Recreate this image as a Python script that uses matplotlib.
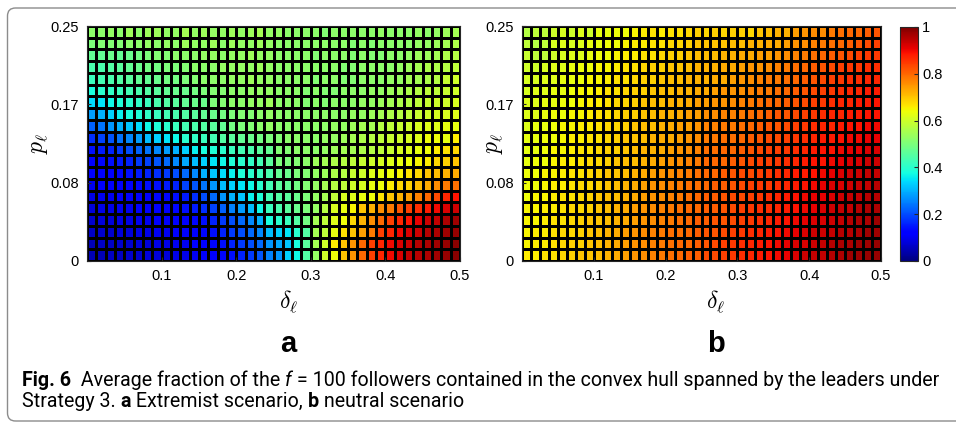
import numpy as np
import matplotlib
matplotlib.use("Agg")
import matplotlib.pyplot as plt
from matplotlib import font_manager
from matplotlib.patches import FancyBboxPatch

# grid of leader parameters: 40 delta cells x 20 p cells
delta_max = 0.5
p_max = 0.25
x_ticks = [0.1, 0.2, 0.3, 0.4, 0.5]
x_ticklabels = ["0.1", "0.2", "0.3", "0.4", "0.5"]
y_ticks = [0, 1 / 12, 1 / 6, 0.25]
y_ticklabels = ["0", "0.08", "0.17", "0.25"]
cbar_ticks = [0, 0.2, 0.4, 0.6, 0.8, 1]
cbar_ticklabels = ["0", "0.2", "0.4", "0.6", "0.8", "1"]

# (a) extremist scenario, fraction in percent, rows listed top (p=0.25) to bottom (p=0)
frac_a = [
    [52, 52, 53, 52, 54, 52, 54, 54, 53, 53, 55, 53, 54, 53, 53, 54, 53, 54, 55, 53, 53, 52, 52, 52, 52, 51, 52, 52, 52, 52, 52, 53, 52, 52, 52, 53, 52, 53, 54, 55],
    [50, 51, 51, 51, 52, 52, 53, 52, 53, 52, 54, 53, 53, 54, 52, 54, 53, 53, 54, 53, 52, 52, 52, 52, 52, 52, 52, 52, 51, 52, 51, 52, 52, 52, 52, 53, 53, 54, 55, 56],
    [47, 47, 48, 47, 48, 49, 50, 51, 51, 52, 52, 52, 53, 53, 52, 53, 53, 54, 53, 53, 52, 52, 52, 52, 51, 52, 52, 52, 51, 52, 51, 51, 52, 52, 53, 54, 54, 55, 56, 57],
    [44, 44, 45, 46, 47, 48, 49, 49, 50, 50, 51, 52, 52, 52, 53, 53, 53, 53, 54, 53, 52, 52, 52, 52, 52, 52, 52, 51, 51, 52, 52, 52, 52, 53, 54, 55, 56, 56, 57, 58],
    [42, 43, 44, 45, 46, 47, 47, 48, 49, 49, 50, 51, 52, 52, 52, 53, 53, 54, 53, 53, 52, 52, 52, 52, 51, 52, 52, 51, 51, 52, 52, 52, 53, 53, 55, 55, 56, 57, 59, 60],
    [38, 40, 41, 42, 43, 44, 45, 46, 47, 48, 48, 49, 50, 51, 51, 52, 52, 53, 53, 53, 52, 52, 52, 51, 52, 51, 51, 52, 52, 52, 53, 53, 54, 55, 56, 57, 58, 58, 59, 60],
    [34, 35, 37, 39, 40, 41, 42, 44, 45, 46, 47, 48, 48, 50, 51, 52, 52, 53, 53, 54, 52, 52, 52, 51, 52, 51, 52, 52, 52, 53, 53, 54, 55, 56, 57, 58, 59, 60, 60, 61],
    [28, 30, 33, 36, 38, 39, 41, 42, 43, 44, 45, 46, 47, 48, 49, 50, 51, 51, 52, 53, 52, 52, 52, 52, 52, 52, 52, 52, 53, 53, 54, 55, 56, 57, 58, 59, 60, 61, 61, 62],
    [22, 24, 27, 30, 32, 34, 37, 39, 40, 42, 43, 44, 45, 46, 47, 49, 50, 51, 52, 53, 52, 52, 52, 52, 52, 52, 53, 53, 54, 55, 55, 57, 58, 59, 60, 61, 62, 62, 63, 63],
    [17, 19, 21, 24, 26, 28, 31, 33, 35, 37, 40, 41, 42, 43, 45, 46, 47, 48, 49, 50, 51, 52, 52, 52, 52, 53, 53, 54, 55, 56, 57, 58, 59, 60, 61, 62, 64, 64, 63, 66],
    [14, 15, 16, 18, 20, 22, 24, 26, 28, 30, 33, 36, 38, 39, 40, 42, 43, 44, 46, 47, 51, 51, 52, 52, 52, 53, 54, 55, 55, 56, 57, 58, 59, 61, 62, 63, 64, 66, 67, 68],
    [12, 13, 14, 15, 16, 18, 19, 21, 23, 26, 29, 31, 33, 35, 37, 39, 40, 41, 43, 46, 50, 50, 51, 52, 54, 55, 56, 57, 58, 59, 60, 61, 62, 63, 64, 65, 66, 68, 69, 70],
    [11, 12, 12, 13, 14, 15, 16, 17, 18, 20, 23, 26, 30, 32, 34, 36, 39, 40, 42, 44, 47, 48, 50, 51, 53, 54, 56, 57, 59, 60, 62, 63, 64, 65, 67, 68, 70, 71, 72, 73],
    [10, 11, 11, 12, 12, 13, 14, 14, 15, 16, 19, 21, 24, 27, 31, 33, 35, 37, 40, 43, 46, 47, 49, 51, 53, 55, 57, 58, 60, 61, 63, 64, 66, 68, 69, 71, 73, 76, 78, 79],
    [9, 10, 10, 11, 11, 12, 12, 13, 13, 14, 15, 17, 20, 23, 27, 30, 32, 36, 39, 43, 45, 46, 48, 50, 53, 55, 58, 61, 62, 63, 64, 67, 70, 72, 74, 77, 80, 83, 87, 89],
    [8, 9, 9, 10, 10, 11, 11, 12, 12, 13, 14, 15, 17, 19, 22, 25, 28, 31, 37, 42, 44, 46, 48, 50, 53, 57, 61, 63, 65, 70, 72, 76, 78, 82, 84, 86, 88, 90, 92, 93],
    [7, 8, 8, 9, 9, 10, 10, 11, 11, 12, 12, 13, 14, 16, 18, 20, 23, 26, 30, 38, 40, 42, 45, 49, 55, 58, 62, 64, 68, 72, 76, 80, 84, 87, 89, 91, 93, 94, 96, 97],
    [6, 7, 7, 8, 8, 9, 9, 10, 10, 11, 11, 12, 13, 14, 16, 18, 20, 23, 26, 31, 33, 35, 40, 45, 55, 58, 63, 67, 70, 74, 78, 84, 87, 90, 92, 93, 95, 96, 97, 98],
    [5, 6, 6, 7, 7, 8, 8, 9, 9, 10, 10, 11, 12, 13, 14, 16, 18, 20, 23, 27, 29, 32, 38, 46, 55, 60, 66, 70, 75, 80, 84, 87, 90, 92, 93, 95, 96, 97, 98, 99],
    [5, 5, 6, 6, 7, 7, 8, 8, 8, 9, 9, 10, 11, 12, 13, 14, 16, 18, 21, 25, 27, 33, 37, 45, 53, 60, 64, 70, 75, 80, 84, 87, 90, 92, 94, 95, 96, 97, 98, 99],
]

# (b) neutral scenario
frac_b = [
    [57, 58, 58, 60, 61, 60, 62, 60, 63, 63, 64, 64, 65, 66, 67, 66, 67, 67, 68, 69, 68, 69, 68, 69, 69, 68, 70, 71, 72, 72, 74, 75, 76, 76, 78, 79, 80, 80, 81, 82],
    [58, 57, 58, 61, 62, 61, 62, 63, 63, 64, 64, 65, 66, 66, 67, 67, 68, 68, 69, 70, 70, 70, 70, 71, 71, 72, 72, 73, 73, 74, 75, 76, 77, 78, 79, 80, 81, 82, 83, 84],
    [59, 58, 58, 60, 61, 62, 62, 63, 64, 64, 65, 66, 66, 67, 67, 68, 69, 69, 70, 71, 71, 71, 72, 72, 73, 73, 74, 74, 75, 76, 77, 78, 79, 80, 81, 82, 83, 84, 85, 85],
    [60, 60, 61, 62, 62, 63, 64, 64, 65, 65, 66, 67, 67, 68, 69, 69, 70, 70, 71, 72, 72, 72, 73, 73, 74, 75, 75, 76, 77, 78, 79, 80, 81, 82, 83, 84, 85, 85, 86, 86],
    [61, 61, 62, 62, 63, 63, 64, 65, 65, 66, 67, 67, 68, 69, 69, 70, 71, 71, 72, 72, 72, 73, 73, 74, 75, 76, 77, 78, 78, 79, 80, 81, 82, 83, 84, 85, 86, 86, 87, 87],
    [61, 62, 62, 63, 63, 64, 65, 65, 66, 67, 67, 68, 69, 69, 70, 71, 71, 72, 72, 73, 73, 74, 75, 75, 76, 77, 78, 78, 79, 80, 81, 82, 83, 84, 85, 86, 87, 87, 88, 88],
    [62, 62, 63, 63, 64, 64, 65, 66, 66, 67, 68, 68, 69, 70, 71, 71, 72, 72, 73, 74, 74, 75, 75, 76, 77, 78, 79, 80, 80, 81, 82, 83, 84, 85, 86, 87, 87, 88, 88, 89],
    [62, 62, 63, 64, 64, 65, 65, 66, 67, 67, 68, 69, 69, 70, 71, 72, 72, 73, 74, 74, 76, 76, 77, 77, 78, 79, 80, 81, 82, 82, 83, 84, 85, 86, 87, 87, 88, 88, 89, 89],
    [62, 63, 63, 64, 65, 65, 66, 66, 67, 68, 68, 69, 70, 71, 71, 72, 73, 74, 74, 75, 77, 77, 78, 78, 79, 80, 81, 82, 82, 83, 84, 85, 86, 87, 87, 88, 89, 89, 90, 90],
    [63, 63, 64, 64, 65, 66, 66, 67, 67, 68, 69, 70, 70, 71, 72, 73, 73, 74, 75, 76, 78, 78, 79, 79, 80, 81, 82, 83, 83, 84, 85, 86, 87, 88, 88, 89, 90, 90, 91, 91],
    [63, 63, 64, 65, 65, 66, 67, 67, 68, 69, 69, 70, 71, 72, 72, 73, 74, 75, 76, 77, 79, 79, 80, 80, 81, 82, 83, 84, 84, 85, 86, 87, 88, 89, 89, 90, 91, 91, 92, 92],
    [63, 64, 64, 65, 66, 66, 67, 68, 68, 69, 70, 71, 71, 72, 73, 74, 75, 76, 77, 78, 80, 80, 80, 81, 82, 83, 84, 84, 85, 86, 87, 88, 89, 89, 90, 91, 92, 92, 93, 93],
    [64, 64, 65, 65, 66, 67, 67, 68, 69, 70, 70, 71, 72, 73, 74, 75, 76, 77, 78, 79, 80, 80, 81, 82, 83, 83, 84, 85, 86, 87, 88, 88, 89, 90, 91, 92, 93, 93, 94, 94],
    [64, 64, 65, 66, 66, 67, 68, 68, 69, 70, 71, 72, 73, 74, 75, 76, 77, 78, 79, 79, 80, 81, 81, 82, 83, 84, 85, 85, 86, 87, 88, 89, 90, 91, 92, 92, 93, 94, 94, 95],
    [64, 65, 65, 66, 67, 67, 68, 69, 70, 71, 71, 72, 73, 74, 75, 76, 77, 78, 79, 80, 81, 81, 82, 83, 83, 84, 85, 86, 87, 88, 89, 90, 91, 91, 92, 93, 94, 94, 95, 95],
    [65, 65, 66, 66, 67, 68, 68, 69, 70, 71, 72, 73, 74, 75, 76, 77, 78, 79, 80, 80, 81, 81, 82, 83, 84, 85, 86, 86, 87, 88, 89, 90, 91, 92, 93, 94, 94, 95, 96, 96],
    [65, 65, 66, 67, 67, 68, 69, 70, 70, 71, 72, 73, 74, 75, 76, 77, 78, 79, 80, 81, 81, 82, 82, 83, 84, 85, 86, 87, 88, 89, 90, 91, 92, 92, 93, 94, 95, 96, 96, 97],
    [65, 66, 66, 67, 68, 68, 69, 70, 71, 72, 73, 74, 75, 76, 77, 78, 79, 79, 80, 81, 82, 82, 83, 84, 85, 86, 87, 88, 89, 90, 91, 92, 93, 93, 94, 95, 95, 96, 97, 97],
    [65, 66, 66, 67, 68, 69, 69, 70, 71, 72, 73, 74, 75, 76, 77, 78, 79, 80, 80, 81, 82, 83, 84, 85, 86, 87, 88, 89, 90, 91, 92, 92, 93, 94, 95, 96, 96, 97, 97, 98],
    [66, 66, 67, 67, 68, 69, 70, 70, 71, 72, 73, 74, 75, 76, 77, 78, 79, 80, 81, 81, 83, 83, 84, 85, 86, 87, 88, 89, 90, 91, 92, 93, 94, 94, 95, 96, 97, 97, 98, 98],
]

panel_letters = ["a", "b"]
caption_line1 = [("Fig. 6", "bold", "normal"), ("  Average fraction of the ", "normal", "normal"),
                 ("f", "normal", "italic"),
                 (" = 100 followers contained in the convex hull spanned by the leaders under", "normal", "normal")]
caption_line2 = [("Strategy 3. ", "normal", "normal"), ("a", "bold", "normal"),
                 (" Extremist scenario, ", "normal", "normal"), ("b", "bold", "normal"),
                 (" neutral scenario", "normal", "normal")]


def pick_font(names):
    have = {f.name for f in font_manager.fontManager.ttflist}
    for n in names:
        if n in have:
            return n
    return "DejaVu Sans"


sans = pick_font(["Liberation Sans", "Arial", "DejaVu Sans"])
cap_font = pick_font(["Roboto", "Lato", "DejaVu Sans"])
plt.rcParams["font.family"] = sans

W, H = 956, 423
fig = plt.figure(figsize=(W / 100, H / 100), dpi=100)


def px_axes(x0, y0, x1, y1):
    # pixel box (top-left origin) -> figure fraction
    return fig.add_axes([x0 / W, 1 - y1 / H, (x1 - x0) / W, (y1 - y0) / H])


x_edges = np.linspace(0, delta_max, len(frac_a[0]) + 1)
y_edges = np.linspace(0, p_max, len(frac_a) + 1)

axes = [px_axes(87, 26, 460, 261), px_axes(522, 26, 881, 261)]
ylabel_x = [-0.099, -0.047]
for ax, data, letter, lx in zip(axes, [frac_a, frac_b], panel_letters, ylabel_x):
    vals = np.array(data[::-1]) / 100.0
    mesh = ax.pcolormesh(x_edges, y_edges, vals, cmap="jet", vmin=0, vmax=1,
                         edgecolors="k", linewidth=0.8)
    ax.set_xlim(0, delta_max)
    ax.set_ylim(0, p_max)
    ax.set_xticks(x_ticks)
    ax.set_xticklabels(x_ticklabels)
    ax.set_yticks(y_ticks)
    ax.set_yticklabels(y_ticklabels)
    ax.tick_params(direction="in", length=3, labelsize=10.5, pad=6, color="#262626")
    for s in ax.spines.values():
        s.set_color("#262626")
        s.set_linewidth(0.8)
    ax.set_xlabel(r"$\delta_\ell$", fontsize=17, labelpad=4, math_fontfamily="cm")
    ax.xaxis.set_label_coords(0.54, -0.115)
    ax.set_ylabel(r"$p_\ell$", fontsize=17, math_fontfamily="cm")
    ax.yaxis.set_label_coords(lx, 0.5)
    ax.text(0.54, -0.387, letter, transform=ax.transAxes, ha="center", va="baseline",
            fontsize=21, fontweight="bold")

cax = px_axes(900, 27, 918, 261)
cb = fig.colorbar(mesh, cax=cax, ticks=cbar_ticks)
cb.ax.set_yticklabels(cbar_ticklabels)
cb.ax.tick_params(direction="in", length=3, labelsize=10.5, pad=3, color="#262626")
cb.outline.set_edgecolor("#262626")
cb.outline.set_linewidth(0.8)

# caption frame (rounded, open to the right)
frame = FancyBboxPatch((0.075, 0.02), 10.0, 4.13, boxstyle="round,pad=0,rounding_size=0.08",
                       transform=fig.dpi_scale_trans, facecolor="none", edgecolor="#8c8c8c",
                       linewidth=1.0, clip_on=False)
fig.patches.append(frame)


def put_segments(x, y, segments, size):
    renderer = fig.canvas.get_renderer()
    made = []
    for s, weight, style in segments:
        t = fig.text(x / W, 1 - y / H, s, fontsize=size, fontweight=weight, fontstyle=style,
                     family=cap_font, va="baseline", ha="left")
        x += t.get_window_extent(renderer).width
        made.append(t)
    return x, made


# size the caption so the first line spans the same width as in the figure
end, trial = put_segments(22, 386, caption_line1, 12)
for t in trial:
    t.remove()
cap_size = min(12 * (940 - 22) / (end - 22), 14.1)
put_segments(22, 386, caption_line1, cap_size)
put_segments(22, 407, caption_line2, cap_size)

fig.savefig("out.png", dpi=100)
